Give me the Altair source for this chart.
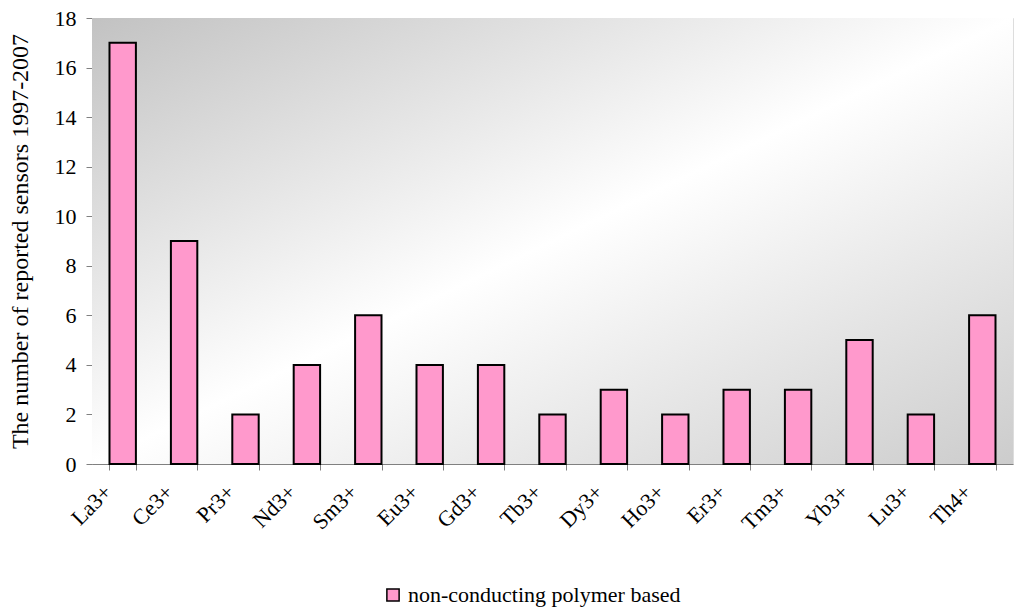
import altair as alt
import pandas as pd

categories = ["La3+", "Ce3+", "Pr3+", "Nd3+", "Sm3+", "Eu3+", "Gd3+", "Tb3+",
              "Dy3+", "Ho3+", "Er3+", "Tm3+", "Yb3+", "Lu3+", "Th4+"]
values = [17, 9, 2, 4, 6, 4, 4, 2, 3, 2, 3, 3, 5, 2, 6]
series_name = "non-conducting polymer based"
y_ticks = [0, 2, 4, 6, 8, 10, 12, 14, 16, 18]

df = pd.DataFrame({"ion": categories, "count": values, "series": series_name})

W, H = 921, 446
FONT = "Liberation Serif"

grad = alt.LinearGradient(
    gradient="linear", x1=0, y1=0, x2=1, y2=1,
    stops=[alt.GradientStop(color="#c2c2c2", offset=0),
           alt.GradientStop(color="#ffffff", offset=0.5),
           alt.GradientStop(color="#cccccc", offset=1)],
)

bg = alt.Chart(alt.Data(values=[{"a": 1}])).mark_rect(fill=grad).encode(
    x=alt.value(0), x2=alt.value(W), y=alt.value(0), y2=alt.value(H)
)

bars = alt.Chart(df).mark_bar(stroke="black", strokeWidth=2).encode(
    x=alt.X("ion:N", sort=categories, title=None,
            scale=alt.Scale(paddingInner=0.57, paddingOuter=0.285),
            axis=alt.Axis(tickBand="extent", tickSize=6, labelAngle=-45,
                          labelAlign="right", labelBaseline="middle",
                          labelPadding=18, labelOffset=-15,
                          domainColor="#808080", tickColor="#808080",
                          labelFont=FONT, labelFontSize=22, labelColor="black")),
    y=alt.Y("count:Q", scale=alt.Scale(domain=[0, 18], nice=False),
            title="The number of reported sensors 1997-2007",
            axis=alt.Axis(values=y_ticks, grid=False, tickSize=6, labelPadding=10,
                          domainColor="#808080", tickColor="#808080",
                          labelFont=FONT, labelFontSize=22, labelColor="black",
                          titleFont=FONT, titleFontSize=24, titleFontWeight="normal",
                          titleColor="black", titlePadding=22)),
    color=alt.Color("series:N", title=None,
                    scale=alt.Scale(domain=[series_name], range=["#ff99cc"]),
                    legend=alt.Legend(orient="none", legendX=290, legendY=566,
                                      symbolType="square", symbolSize=150,
                                      symbolStrokeColor="black", symbolStrokeWidth=1.5,
                                      symbolFillColor="#ff99cc",
                                      labelFont=FONT, labelFontSize=22, labelColor="black",
                                      labelOffset=4, labelLimit=0, padding=0)),
)

chart = alt.layer(bg, bars).properties(
    width=W, height=H,
    padding={"left": 84, "top": 10, "right": 3, "bottom": 144},
    autosize=alt.AutoSizeParams(type="none"),
).configure_view(stroke="#888888", strokeWidth=1.5).configure(background="white")

chart.save("out.html", embed_options={"renderer": "svg", "actions": False})
